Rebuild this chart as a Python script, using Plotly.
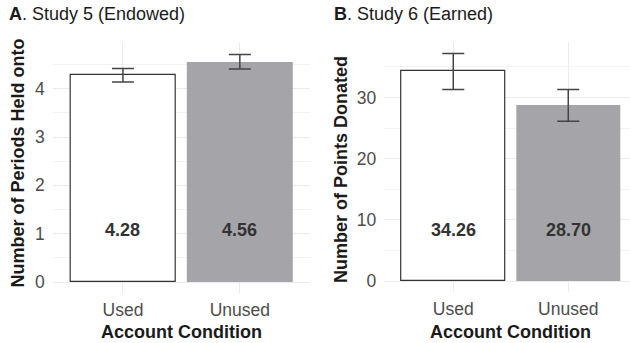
import plotly.graph_objects as go

# ---- data ----
conditions = ["Used", "Unused"]
study5_means = [4.28, 4.56]
study5_se = [0.14, 0.15]
study6_means = [34.26, 28.70]
study6_se = [2.95, 2.60]
label5 = ["4.28", "4.56"]
label6 = ["34.26", "28.70"]

FONT = "Liberation Sans, Arial, Helvetica, sans-serif"
W, H = 630, 343
fill_colors = ["#ffffff", "#a5a5a9"]
line_colors = ["#333333", "#a5a5a9"]
line_widths = [1.2, 0]
GRID = "#ebebeb"
MINOR = "#f3f3f3"

fig = go.Figure()

def add_panel(means, se, xa, ya):
    fig.add_trace(go.Bar(
        x=conditions, y=means, width=0.9,
        marker=dict(color=fill_colors, line=dict(color=line_colors, width=line_widths)),
        error_y=dict(type="data", array=se, visible=True, color="#444444",
                     thickness=1.5, width=11),
        xaxis=xa, yaxis=ya, showlegend=False, hoverinfo="skip",
    ))

add_panel(study5_means, study5_se, "x", "y")
add_panel(study6_means, study6_se, "x2", "y2")

def yrange(means, se):
    top = max(m + s for m, s in zip(means, se))
    return [-0.05 * top, 1.05 * top]

ax_common = dict(
    showgrid=True, gridcolor=GRID, gridwidth=1.1, zeroline=False,
    showline=False, ticks="", tickfont=dict(family=FONT, size=17.5, color="#4d4d4d"),
    fixedrange=True,
)

fig.update_layout(
    width=W, height=H, margin=dict(l=0, r=0, t=0, b=0),
    paper_bgcolor="white", plot_bgcolor="white",
    font=dict(family=FONT),
    bargap=0,
    xaxis=dict(domain=[52.8 / W, 310 / W], range=[-0.6, 1.6], type="category",
               ticklabelstandoff=4, **ax_common),
    yaxis=dict(domain=[1 - 293.4 / H, 1 - 43 / H], range=yrange(study5_means, study5_se),
               tickvals=[0, 1, 2, 3, 4], ticklabelstandoff=7,
               minor=dict(tickvals=[0.5, 1.5, 2.5, 3.5, 4.5], showgrid=True, gridcolor=MINOR, gridwidth=0.6),
               **ax_common),
    xaxis2=dict(domain=[384.3 / W, 1.0], range=[-0.6, 1.537], type="category",
                anchor="y2", ticklabelstandoff=4, **ax_common),
    yaxis2=dict(domain=[1 - 292.4 / H, 1 - 42 / H], range=yrange(study6_means, study6_se),
                tickvals=[0, 10, 20, 30], anchor="x2", ticklabelstandoff=7,
                minor=dict(tickvals=[5, 15, 25, 35], showgrid=True, gridcolor=MINOR, gridwidth=0.6),
                **ax_common),
)

ann = []
# panel titles
ann.append(dict(text="<b>A</b>. Study 5 (Endowed)", x=7 / W, y=1 - 14.5 / H, xref="paper", yref="paper",
                xanchor="left", yanchor="middle", showarrow=False,
                font=dict(family=FONT, size=18, color="#1a1a1a")))
ann.append(dict(text="<b>B</b>. Study 6 (Earned)", x=331.5 / W, y=1 - 14.5 / H, xref="paper", yref="paper",
                xanchor="left", yanchor="middle", showarrow=False,
                font=dict(family=FONT, size=18, color="#1a1a1a")))
# y titles
ann.append(dict(text="<b>Number of Periods Held onto</b>", x=17 / W, y=1 - 163.5 / H, xref="paper", yref="paper",
                textangle=-90, showarrow=False, xanchor="center", yanchor="middle",
                font=dict(family=FONT, size=18, color="#1a1a1a")))
ann.append(dict(text="<b>Number of Points Donated</b>", x=341 / W, y=1 - 170 / H, xref="paper", yref="paper",
                textangle=-90, showarrow=False, xanchor="center", yanchor="middle",
                font=dict(family=FONT, size=18, color="#1a1a1a")))
# x titles
ann.append(dict(text="<b>Account Condition</b>", x=0.5, xref="x", y=1 - 331.5 / H, yref="paper",
                showarrow=False, xanchor="center", yanchor="middle",
                font=dict(family=FONT, size=18, color="#1a1a1a")))
ann.append(dict(text="<b>Account Condition</b>", x=0.5, xref="x2", y=1 - 331.5 / H, yref="paper",
                showarrow=False, xanchor="center", yanchor="middle",
                font=dict(family=FONT, size=18, color="#1a1a1a")))
# bar value labels
for xr, labs in (("x", label5), ("x2", label6)):
    for i, t in enumerate(labs):
        ann.append(dict(text="<b>%s</b>" % t, x=i, xref=xr, y=1 - 230 / H, yref="paper",
                        showarrow=False, xanchor="center", yanchor="middle",
                        font=dict(family=FONT, size=18, color="#333333")))

fig.update_layout(annotations=ann)
fig.write_html("out.html")
